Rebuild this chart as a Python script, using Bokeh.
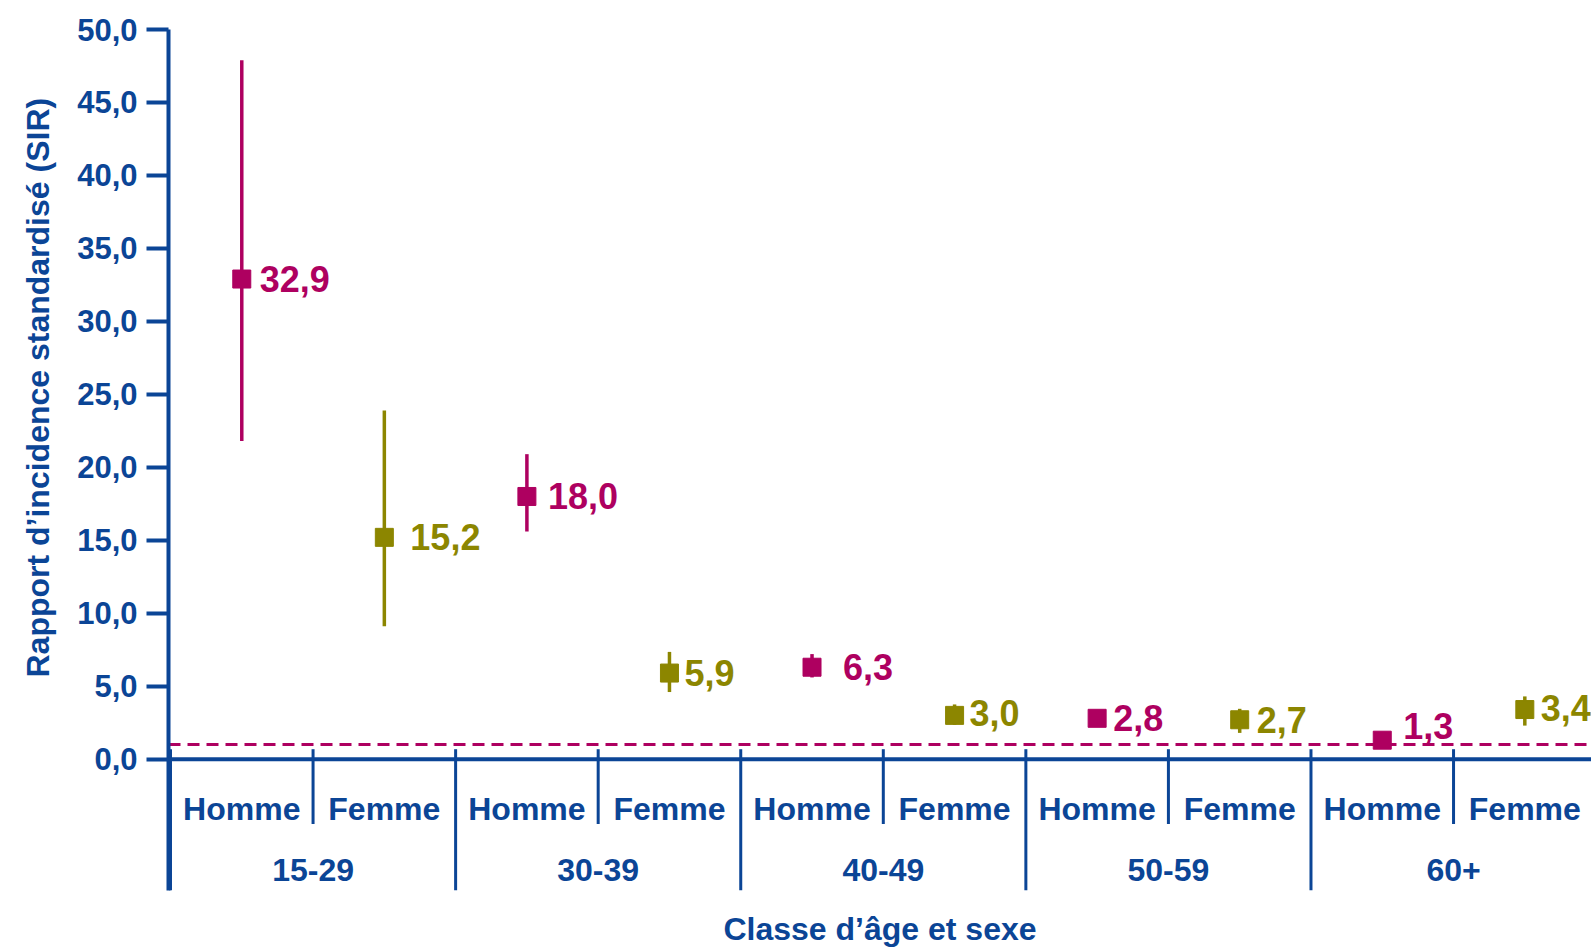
from bokeh.plotting import figure
from bokeh.models import Range1d, FixedTicker, Span, Title, ColumnDataSource, CustomJSTickFormatter
from bokeh.core.properties import value
from bokeh.embed import file_html
from bokeh.resources import INLINE

# --- data -------------------------------------------------------------
age_groups = ["15-29", "30-39", "40-49", "50-59", "60+"]
sexes = ["Homme", "Femme"]
# standardised incidence ratio per (age group, sex), in the same order
sir = [32.9, 15.2, 18.0, 5.9, 6.3, 3.0, 2.8, 2.7, 1.3, 3.4]
ci_low = [21.8, 9.1, 15.6, 4.6, 5.6, 2.35, 2.35, 1.8, 1.0, 2.3]
ci_high = [47.9, 23.9, 20.9, 7.35, 7.2, 3.75, 3.3, 3.45, 1.65, 4.3]
y_ticks = [0, 5, 10, 15, 20, 25, 30, 35, 40, 45, 50]
reference_sir = 1.0

# --- styling ----------------------------------------------------------
BLUE = "#0B4596"
MAGENTA = "#AE0060"
OLIVE = "#8C8600"
FONT_NAME = "Liberation Sans"
FONT = value(FONT_NAME)
sex_colors = {"Homme": MAGENTA, "Femme": OLIVE}
# per-label nudges in screen pixels (x from marker centre, y positive downward)
label_dx = [18, 26, 21, 15, 31, 15, 16, 17, 21, 16]
label_dy = [0, 0, 0, 0, 0, -2, 0, 0, -14, -2]

n_cat = len(age_groups) * len(sexes)
px_per_cat = 142.56
frame_left = 168
x_start = -2 / px_per_cat
x_end = x_start + (1591 - frame_left) / px_per_cat

p = figure(width=1591, height=949,
           x_range=Range1d(x_start, x_end), y_range=Range1d(-9.0, 50),
           min_border_left=frame_left, min_border_right=0,
           min_border_top=29, min_border_bottom=56,
           output_backend="svg", toolbar_location=None)
p.outline_line_color = None
p.xgrid.visible = False
p.ygrid.visible = False
p.background_fill_color = "white"

# y axis
ya = p.yaxis[0]
ya.ticker = FixedTicker(ticks=y_ticks)
ya.formatter = CustomJSTickFormatter(code="return tick.toFixed(1).replace('.', ',');")
ya.axis_line_color = BLUE
ya.axis_line_width = 4
ya.major_tick_line_color = BLUE
ya.major_tick_line_width = 4
ya.major_tick_out = 22
ya.major_tick_in = 0
ya.minor_tick_out = 0
ya.minor_tick_in = 0
ya.major_label_standoff = 9
ya.major_label_text_font = FONT_NAME
ya.major_label_text_font_style = "bold"
ya.major_label_text_font_size = "31px"
ya.major_label_text_color = BLUE

# y title, placed beside the axis and raised to sit on the 0-50 span
p.add_layout(Title(text="Rapport d’incidence standardisé (SIR)",
                   align="left", offset=213, vertical_align="top",
                   standoff=34, text_font=FONT_NAME, text_font_style="bold",
                   text_font_size="32px", text_color=BLUE), "left")

# x axis only carries the title; categories are drawn inside the frame
xa = p.xaxis[0]
xa.ticker = FixedTicker(ticks=[])
xa.axis_line_color = None
xa.major_tick_out = 0
xa.major_tick_in = 0
xa.minor_tick_out = 0
xa.minor_tick_in = 0
xa.major_label_standoff = 0
xa.axis_label = "Classe d’âge et sexe"
xa.axis_label_text_font = FONT_NAME
xa.axis_label_text_font_style = "bold"
xa.axis_label_text_font_size = "32px"
xa.axis_label_text_color = BLUE
xa.axis_label_standoff = 20

# baseline and reference line
p.add_layout(Span(location=0, dimension="width", line_color=BLUE,
                  line_width=4, level="underlay"))
p.add_layout(Span(location=reference_sir, dimension="width", line_color=MAGENTA,
                  line_width=3, line_dash="12 7", level="underlay"))

# category separators below the baseline
stub = 10 / 14.644
group_edges = [2 * g for g in range(len(age_groups))]
sex_edges = [2 * g + 1 for g in range(len(age_groups))]
p.segment(x0=group_edges, y0=[stub] * len(group_edges), x1=group_edges,
          y1=[-9.0] * len(group_edges), line_color=BLUE, line_width=3)
p.segment(x0=sex_edges, y0=[stub] * len(sex_edges), x1=sex_edges,
          y1=[-4.45] * len(sex_edges), line_color=BLUE, line_width=3)

# category labels
cat_x = [i + 0.5 for i in range(n_cat)]
cat_sex = [sexes[i % 2] for i in range(n_cat)]
p.text(x=cat_x, y=[-3.42] * n_cat, text=cat_sex, text_font=FONT,
       text_font_style="bold", text_font_size="32px", text_color=BLUE,
       text_align="center", text_baseline="middle")
p.text(x=[2 * g + 1 for g in range(len(age_groups))], y=[-7.58] * len(age_groups),
       text=age_groups, text_font=FONT, text_font_style="bold",
       text_font_size="32px", text_color=BLUE,
       text_align="center", text_baseline="middle")

# points with confidence intervals
src = ColumnDataSource(dict(
    x=cat_x, sir=sir, lo=ci_low, hi=ci_high,
    color=[sex_colors[s] for s in cat_sex],
    label=[f"{v:.1f}".replace(".", ",") for v in sir],
    dx=label_dx, dy=label_dy,
))
p.segment(x0="x", y0="lo", x1="x", y1="hi", line_color="color",
          line_width=3.5, source=src)
p.scatter(x="x", y="sir", marker="square", size=18, fill_color="color",
          line_color="color", source=src)
p.text(x="x", y="sir", text="label", x_offset="dx", y_offset="dy",
       text_font=FONT, text_font_style="bold", text_font_size="36px",
       text_color="color", text_align="left", text_baseline="middle",
       source=src)

open("out.html", "w").write(file_html(p, INLINE))
